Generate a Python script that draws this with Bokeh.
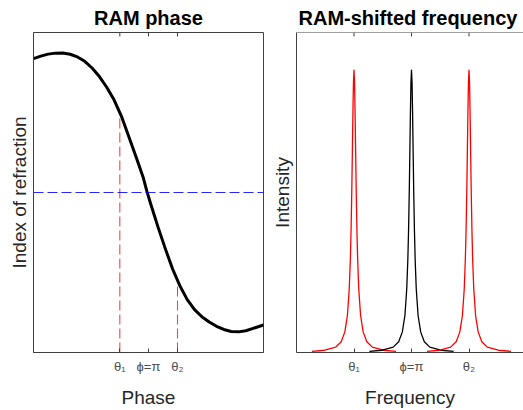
import numpy as np
from bokeh.plotting import figure
from bokeh.layouts import row
from bokeh.models import Range1d, FixedTicker, Span
from bokeh.embed import file_html
from bokeh.resources import INLINE

# ---------------- data ----------------
# Left panel: index of refraction vs phase
phase = [0.0, 0.2, 0.4, 0.6, 0.8, 1.0, 1.2, 1.4, 1.6, 1.8, 2.0, 2.2, 2.4, 2.6,
         2.8, 3.0, 3.1, 3.2, 3.4, 3.6, 3.8, 4.0, 4.2, 4.4, 4.6, 4.8, 5.0, 5.2,
         5.4, 5.6, 5.8, 6.0, 6.283]
index = [0.954, 0.972, 0.986, 0.993, 0.994, 0.985, 0.966, 0.935, 0.887, 0.826,
         0.750, 0.660, 0.545, 0.400, 0.255, 0.105, 0.006, -0.080, -0.245, -0.400,
         -0.545, -0.665, -0.763, -0.835, -0.885, -0.923, -0.953, -0.976, -0.990,
         -0.993, -0.985, -0.968, -0.944]
phase_ticks = [2.358, np.pi, 3.934]
phase_tick_labels = ["θ₁", "ϕ=π", "θ₂"]
theta_index = [0.566, -0.634]   # curve value at theta1 / theta2

# Right panel: intensity peaks
peak_centers = [np.pi / 2, np.pi, 3 * np.pi / 2]
peak_colors = ["#ff0000", "#000000", "#ff0000"]
peak_offset = [-1.15, -0.8, -0.5, -0.35, -0.25, -0.18, -0.13, -0.1, -0.08, -0.06,
               -0.045, -0.03, -0.015, 0.0, 0.015, 0.03, 0.045, 0.06, 0.08, 0.1,
               0.13, 0.18, 0.25, 0.35, 0.5, 0.8, 1.15]
peak_intensity = [0.004, 0.008, 0.019, 0.038, 0.073, 0.131, 0.225, 0.329, 0.434, 0.576,
                  0.708, 0.845, 0.956, 1.0, 0.956, 0.845, 0.708, 0.576, 0.434, 0.329,
                  0.225, 0.131, 0.073, 0.038, 0.019, 0.008, 0.004]
freq_ticks = [np.pi / 2, np.pi, 3 * np.pi / 2]
freq_tick_labels = ["θ₁", "ϕ=π", "θ₂"]

FONT = "Liberation Sans"
AX = "#404040"
TICK_PX = 4


def style(p, ticks, labels, ylabel, xlabel, frame_h):
    p.xgrid.visible = False
    p.ygrid.visible = False
    p.background_fill_color = "white"
    p.border_fill_color = "white"
    p.title.text_font = FONT
    p.title.text_font_size = "20px"
    p.title.text_font_style = "bold"
    p.title.align = "center"
    p.title.text_color = "#000000"
    p.title.standoff = 8

    xa = p.xaxis[0]
    xa.ticker = FixedTicker(ticks=ticks)
    xa.major_label_overrides = {t: l for t, l in zip(ticks, labels)}
    xa.major_tick_in = TICK_PX
    xa.major_tick_out = 0
    xa.minor_tick_line_color = None
    xa.axis_line_color = AX
    xa.major_tick_line_color = AX
    xa.major_label_text_font = FONT
    xa.major_label_text_font_size = "13px"
    xa.major_label_text_color = "#4d4d4d"
    xa.major_label_standoff = 6
    xa.axis_label = xlabel
    xa.axis_label_text_font = FONT
    xa.axis_label_text_font_size = "19px"
    xa.axis_label_text_font_style = "normal"
    xa.axis_label_text_color = "#262626"
    xa.axis_label_standoff = 10

    ya = p.yaxis[0]
    ya.ticker = FixedTicker(ticks=[])
    ya.major_tick_line_color = None
    ya.minor_tick_line_color = None
    ya.axis_line_color = AX
    ya.axis_label = ylabel
    ya.axis_label_text_font = FONT
    ya.axis_label_text_font_size = "19px"
    ya.axis_label_text_font_style = "normal"
    ya.axis_label_text_color = "#262626"
    ya.axis_label_standoff = 4

    # top border and inward ticks on the top edge
    y_top = p.y_range.end
    y_len = (p.y_range.end - p.y_range.start) * TICK_PX / frame_h
    p.add_layout(Span(location=y_top, dimension="width", line_color=AX, line_width=1))
    p.segment(x0=ticks, x1=ticks, y0=[y_top] * len(ticks), y1=[y_top - y_len] * len(ticks),
              line_color=AX, line_width=1)


FRAME_H = 410 - 32 - 55

# ---------------- left panel ----------------
left = figure(width=264, height=410, title="RAM phase",
              x_range=Range1d(0, 2 * np.pi), y_range=Range1d(-1.14, 1.14),
              output_backend="svg", toolbar_location=None,
              min_border_left=33, min_border_right=1,
              min_border_top=32, min_border_bottom=55)
style(left, phase_ticks, phase_tick_labels, "Index of refraction", "Phase", FRAME_H)
left.outline_line_color = AX

left.add_layout(Span(location=0, dimension="width", line_color="#0000ff",
                     line_width=1, line_dash="10 4", line_alpha=0.85))
left.segment(x0=[phase_ticks[0], phase_ticks[2]], y0=[-1.14, -1.14],
             x1=[phase_ticks[0], phase_ticks[2]], y1=theta_index,
             line_color="#ff0000", line_width=1.1, line_dash="10 4", line_alpha=0.75)
left.line(phase, index, line_color="black", line_width=3, line_join="round")

# ---------------- right panel ----------------
right = figure(width=259, height=410, title="RAM-shifted frequency",
               x_range=Range1d(0, 2 * np.pi * 227 / 230), y_range=Range1d(0, 1.133),
               output_backend="svg", toolbar_location=None,
               min_border_left=32, min_border_right=0,
               min_border_top=32, min_border_bottom=55)
style(right, freq_ticks, freq_tick_labels, "Intensity", "Frequency", FRAME_H)
right.outline_line_color = None
right.title.align = "left"
right.title.offset = 2

for c, col in zip(peak_centers, peak_colors):
    right.line([c + d for d in peak_offset], peak_intensity,
               line_color=col, line_width=1.3, line_join="round")

layout = row(left, right)
open("out.html", "w").write(file_html(layout, INLINE))
